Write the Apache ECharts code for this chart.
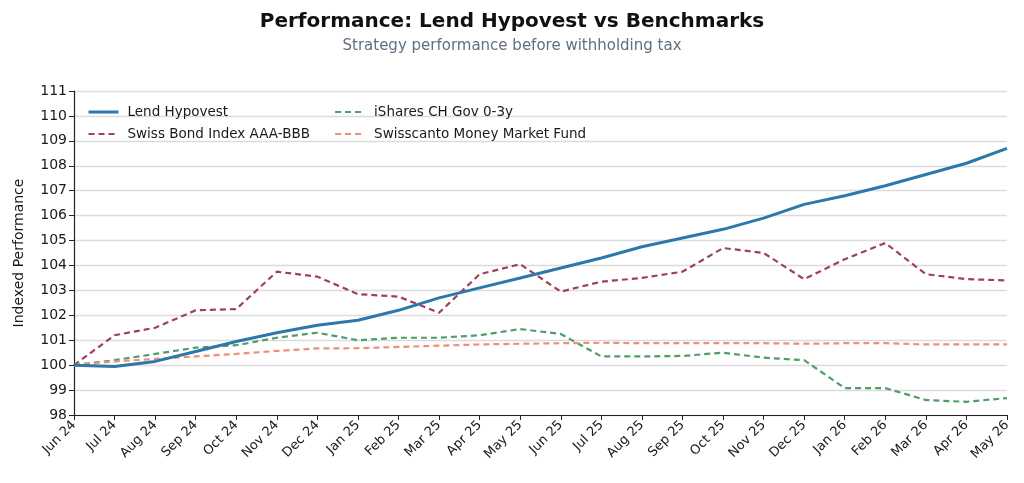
<!DOCTYPE html>
<html>
<head>
<meta charset="utf-8">
<script src="https://cdn.jsdelivr.net/npm/echarts@6/dist/echarts.min.js"></script>
<style>
  html, body { margin: 0; padding: 0; background: #fff; }
  #chart { width: 1024px; height: 483px; }
</style>
</head>
<body>
<div id="chart"></div>
<script>
var months = ['Jun 24','Jul 24','Aug 24','Sep 24','Oct 24','Nov 24','Dec 24','Jan 25','Feb 25','Mar 25','Apr 25','May 25',
              'Jun 25','Jul 25','Aug 25','Sep 25','Oct 25','Nov 25','Dec 25','Jan 26','Feb 26','Mar 26','Apr 26','May 26'];

// indexed values
var lendHypovest = [100.0, 99.95, 100.15, 100.55, 100.95, 101.3, 101.6, 101.8, 102.2, 102.7, 103.1, 103.5,
                    103.9, 104.3, 104.75, 105.1, 105.45, 105.9, 106.45, 106.8, 107.2, 107.65, 108.1, 108.7];
var swissBond = [100.0, 101.2, 101.5, 102.2, 102.25, 103.75, 103.55, 102.85, 102.75, 102.1, 103.65, 104.05,
                 102.95, 103.35, 103.5, 103.75, 104.7, 104.5, 103.45, 104.25, 104.9, 103.65, 103.45, 103.4];
var iShares = [100.0, 100.2, 100.45, 100.7, 100.8, 101.1, 101.3, 101.0, 101.1, 101.1, 101.2, 101.45,
               101.25, 100.35, 100.35, 100.37, 100.5, 100.3, 100.2, 99.08, 99.08, 98.6, 98.53, 98.68];
var swisscanto = [100.0, 100.15, 100.25, 100.35, 100.45, 100.57, 100.67, 100.68, 100.73, 100.78, 100.83, 100.86,
                  100.88, 100.9, 100.88, 100.88, 100.88, 100.88, 100.86, 100.88, 100.88, 100.83, 100.83, 100.83];

var font = 'DejaVu Sans';
var myChart = echarts.init(document.getElementById('chart'));

function dashed(name, data, color){
    return {
        name: name,
        type: 'line',
        data: data,
        symbol: 'none',
        lineStyle: { color: color, width: 2.2, type: [6, 4] },
        itemStyle: { color: color }
    };
}

function legendBox(left, names){
    return {
        orient: 'vertical',
        left: left, top: 100,
        itemWidth: 30, itemHeight: 10, itemGap: 8,
        itemStyle: { opacity: 0 },
        lineStyle: { width: 'inherit' },
        data: names,
        textStyle: { fontFamily: font, fontSize: 13.5, color: '#1a1a1a', padding: [0, 0, 0, 4] }
    };
}

var option = {
    animation: false,
    backgroundColor: '#fff',
    title: [{
        text: 'Performance: Lend Hypovest vs Benchmarks',
        left: 'center', top: 7,
        textStyle: { fontFamily: font, fontSize: 20, fontWeight: 'bold', color: '#111' }
    }, {
        text: 'Strategy performance before withholding tax',
        left: 'center', top: 34,
        textStyle: { fontFamily: font, fontSize: 15, fontWeight: 'normal', color: '#5f7080' }
    }],
    legend: [
        legendBox(82, ['Lend Hypovest', 'Swiss Bond Index AAA-BBB']),
        legendBox(329, ['iShares CH Gov 0-3y', 'Swisscanto Money Market Fund'])
    ],
    grid: { left: 74, right: 17, top: 91, bottom: 68, containLabel: false },
    xAxis: {
        type: 'category',
        data: months,
        boundaryGap: false,
        axisLine: { lineStyle: { color: '#222', width: 1.2 } },
        axisTick: { show: true, length: 5, alignWithLabel: true, interval: 0, lineStyle: { color: '#222' } },
        axisLabel: { interval: 0, rotate: 45, fontFamily: font, fontSize: 13, color: '#1a1a1a', margin: 8 },
        splitLine: { show: false }
    },
    yAxis: {
        type: 'value',
        min: 98, max: 111, interval: 1,
        name: 'Indexed Performance',
        nameLocation: 'middle',
        nameGap: 48,
        nameTextStyle: { fontFamily: font, fontSize: 14, color: '#1a1a1a' },
        axisLine: { show: true, lineStyle: { color: '#222', width: 1.2 } },
        axisTick: { show: true, length: 5, lineStyle: { color: '#222' } },
        axisLabel: { fontFamily: font, fontSize: 14, color: '#1a1a1a', margin: 7 },
        splitLine: { show: true, lineStyle: { color: '#dcdcdc', width: 1.3 } }
    },
    series: [
        {
            name: 'Lend Hypovest',
            type: 'line',
            data: lendHypovest,
            symbol: 'none',
            z: 5,
            lineStyle: { color: '#2c78ab', width: 3 },
            itemStyle: { color: '#2c78ab' }
        },
        dashed('Swiss Bond Index AAA-BBB', swissBond, '#a03f60'),
        dashed('iShares CH Gov 0-3y', iShares, '#4e9e6a'),
        dashed('Swisscanto Money Market Fund', swisscanto, '#ee8f77')
    ]
};
myChart.setOption(option);
</script>
</body>
</html>
